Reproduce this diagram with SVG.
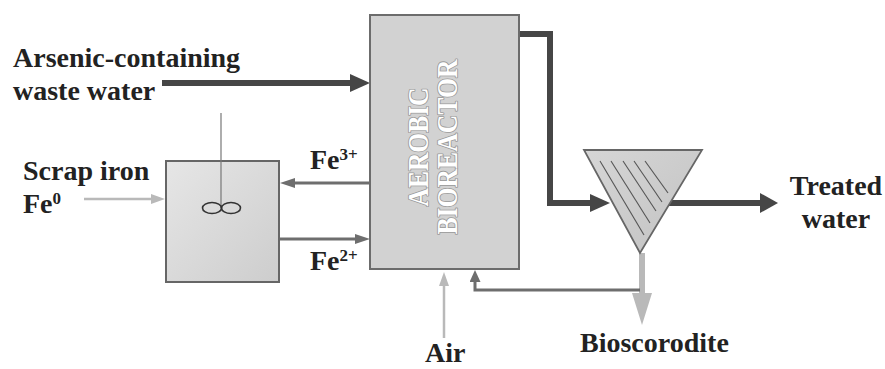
<svg xmlns="http://www.w3.org/2000/svg" width="885" height="369" viewBox="0 0 885 369">
<style>
.lbl{font-family:"Liberation Serif","Times New Roman",serif;font-weight:bold;font-size:28px;fill:#222}
.sup{font-size:17px}
.rtxt{font-family:"Liberation Serif","Times New Roman",serif;font-weight:bold;font-size:29px;fill:#ffffff;stroke:#9a9a9a;stroke-width:1.8;paint-order:stroke;stroke-linejoin:round}
.dark{fill:none;stroke:#464646;stroke-width:6;stroke-linejoin:miter}
.mid{fill:none;stroke:#6e6e6e;stroke-width:3}
.light{fill:none;stroke:#b9b9b9;stroke-width:2.5}
.lightw{fill:none;stroke:#b9b9b9;stroke-width:6}
.hatch{stroke:#555;stroke-width:1.1}
</style>
<defs>
<linearGradient id="gBox" x1="0" y1="0" x2="1" y2="1">
<stop offset="0" stop-color="#e6e6e6"/>
<stop offset="1" stop-color="#cdcdcd"/>
</linearGradient>
<linearGradient id="gTri" x1="0" y1="0" x2="1" y2="1">
<stop offset="0" stop-color="#d6d6d6"/>
<stop offset="1" stop-color="#c2c2c2"/>
</linearGradient>
<marker id="mDark" markerUnits="userSpaceOnUse" viewBox="0 0 20 18" markerWidth="20" markerHeight="18" refX="0" refY="9" orient="auto"><path d="M0,0 L20,9 L0,18 z" fill="#464646"/></marker>
<marker id="mDark2" markerUnits="userSpaceOnUse" viewBox="0 0 18 20" markerWidth="18" markerHeight="20" refX="0" refY="10" orient="auto"><path d="M0,0 L18,10 L0,20 z" fill="#464646"/></marker>
<marker id="mMid" markerUnits="userSpaceOnUse" viewBox="0 0 15 10" markerWidth="15" markerHeight="10" refX="0" refY="5" orient="auto"><path d="M0,0 L15,5 L0,10 z" fill="#6e6e6e"/></marker>
<marker id="mMidS" markerUnits="userSpaceOnUse" viewBox="0 0 12 11" markerWidth="12" markerHeight="11" refX="0" refY="5.5" orient="auto"><path d="M0,0 L12,5.5 L0,11 z" fill="#6e6e6e"/></marker>
<marker id="mLight" markerUnits="userSpaceOnUse" viewBox="0 0 14 10" markerWidth="14" markerHeight="10" refX="0" refY="5" orient="auto"><path d="M0,0 L14,5 L0,10 z" fill="#b9b9b9"/></marker>
<marker id="mLightW" markerUnits="userSpaceOnUse" viewBox="0 0 32 20" markerWidth="32" markerHeight="20" refX="0" refY="10" orient="auto"><path d="M0,0 L32,10 L0,20 z" fill="#b9b9b9"/></marker>
</defs>

<g id="connectors">
<path class="dark" d="M162,83 H350" marker-end="url(#mDark)"/>
<path class="dark" d="M519,34 H550 V203 H590" marker-end="url(#mDark)"/>
<path class="dark" d="M669,203 H760" marker-end="url(#mDark2)"/>
<path class="mid" d="M370,183 H295" marker-end="url(#mMid)"/>
<path class="mid" d="M279,239 H355" marker-end="url(#mMid)"/>
<path class="lightw" d="M642,253 V293" marker-end="url(#mLightW)"/>
<path class="mid" d="M640,290 H475 V282" marker-end="url(#mMidS)"/>
<path class="light" d="M444,338 V286" marker-end="url(#mLight)"/>
<path class="light" d="M84,199 H151" marker-end="url(#mLight)"/>
</g>

<g id="reactor">
<rect x="370" y="15" width="149" height="254" fill="#d2d2d2" stroke="#6c6c6c" stroke-width="2"/>
<text class="rtxt" transform="translate(428,147) rotate(-90)" text-anchor="middle" textLength="119" lengthAdjust="spacingAndGlyphs">AEROBIC</text>
<text class="rtxt" transform="translate(457,147) rotate(-90)" text-anchor="middle" textLength="175" lengthAdjust="spacingAndGlyphs">BIOREACTOR</text>
</g>

<g id="mixer">
<rect x="166" y="161" width="113" height="121" fill="url(#gBox)" stroke="#666" stroke-width="2"/>
<line x1="221" y1="113" x2="221" y2="208" stroke="#777" stroke-width="1.2"/>
<ellipse cx="212" cy="208" rx="9.5" ry="5.5" fill="none" stroke="#333" stroke-width="1.6"/>
<ellipse cx="231" cy="208" rx="9.5" ry="5.5" fill="none" stroke="#333" stroke-width="1.6"/>
</g>

<g id="settler">
<polygon points="584,150 702,150 640,253" fill="url(#gTri)" stroke="#666" stroke-width="1.8"/>
<line class="hatch" x1="600" y1="161" x2="644" y2="235"/>
<line class="hatch" x1="611" y1="161" x2="650" y2="223"/>
<line class="hatch" x1="623" y1="161" x2="656" y2="211"/>
<line class="hatch" x1="634" y1="161" x2="662" y2="202"/>
<line class="hatch" x1="645" y1="161" x2="668" y2="193"/>
</g>

<g id="labels">
<text class="lbl" x="13" y="67">Arsenic-containing</text>
<text class="lbl" x="13" y="100">waste water</text>
<text class="lbl" x="23" y="180">Scrap iron</text>
<text class="lbl" x="23" y="213">Fe<tspan class="sup" dy="-9">0</tspan></text>
<text class="lbl" x="310" y="169">Fe<tspan class="sup" dy="-9">3+</tspan></text>
<text class="lbl" x="310" y="270">Fe<tspan class="sup" dy="-9">2+</tspan></text>
<text class="lbl" x="836" y="195" text-anchor="middle">Treated</text>
<text class="lbl" x="836" y="228" text-anchor="middle">water</text>
<text class="lbl" x="580" y="352">Bioscorodite</text>
<text class="lbl" x="425" y="362">Air</text>
</g>
</svg>
